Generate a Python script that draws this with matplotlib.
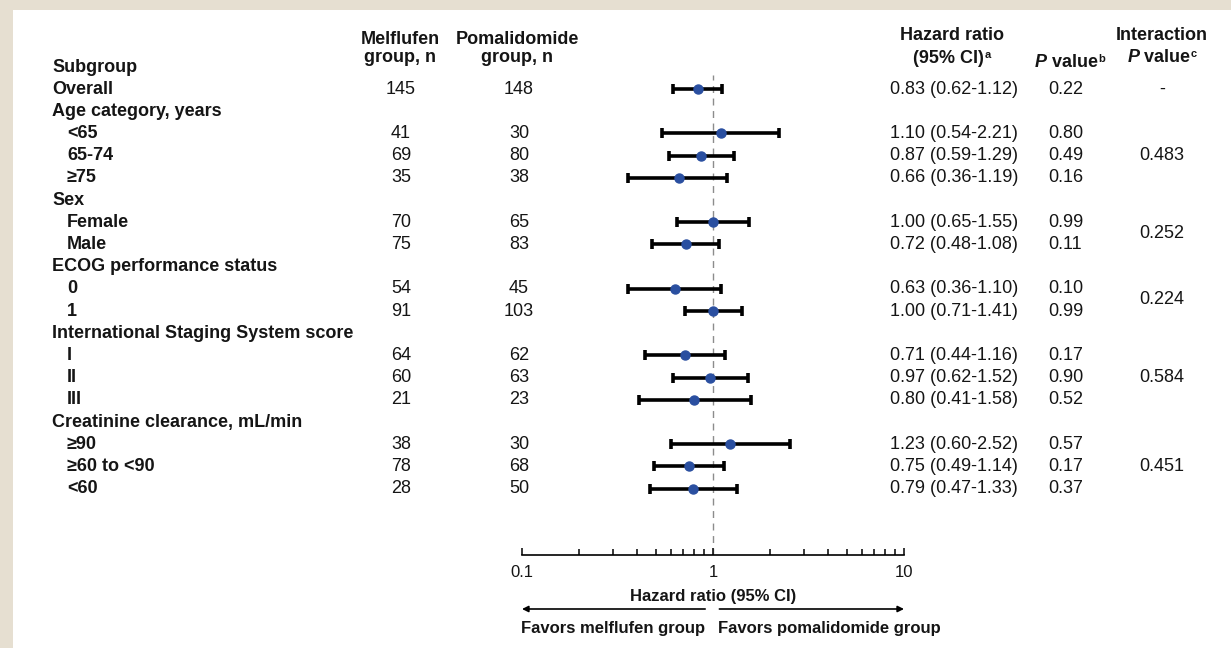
import matplotlib
matplotlib.use("Agg")
import matplotlib.pyplot as plt
from matplotlib import transforms
from matplotlib.patches import Rectangle
from matplotlib.ticker import FixedLocator, LogLocator, NullFormatter
import numpy as np

plt.rcParams['font.family'] = ['Liberation Sans', 'DejaVu Sans']

# rows of the table
labels = ["Overall", "Age category, years", "<65", "65-74", "\u226575", "Sex", "Female", "Male",
          "ECOG performance status", "0", "1", "International Staging System score", "I", "II", "III",
          "Creatinine clearance, mL/min", "\u226590", "\u226560 to <90", "<60"]
indent = [0, 0, 1, 1, 1, 0, 1, 1, 0, 1, 1, 0, 1, 1, 1, 0, 1, 1, 1]
n_mel = [145, None, 41, 69, 35, None, 70, 75, None, 54, 91, None, 64, 60, 21, None, 38, 78, 28]
n_pom = [148, None, 30, 80, 38, None, 65, 83, None, 45, 103, None, 62, 63, 23, None, 30, 68, 50]
hr = [0.83, None, 1.10, 0.87, 0.66, None, 1.00, 0.72, None, 0.63, 1.00, None, 0.71, 0.97, 0.80, None, 1.23, 0.75, 0.79]
lo = [0.62, None, 0.54, 0.59, 0.36, None, 0.65, 0.48, None, 0.36, 0.71, None, 0.44, 0.62, 0.41, None, 0.60, 0.49, 0.47]
hi = [1.12, None, 2.21, 1.29, 1.19, None, 1.55, 1.08, None, 1.10, 1.41, None, 1.16, 1.52, 1.58, None, 2.52, 1.14, 1.33]
pval = ["0.22", None, "0.80", "0.49", "0.16", None, "0.99", "0.11", None, "0.10", "0.99", None,
        "0.17", "0.90", "0.52", None, "0.57", "0.17", "0.37"]
inter_vals = ["-", "0.483", "0.252", "0.224", "0.584", "0.451"]
inter_rows = [[0], [2, 3, 4], [6, 7], [9, 10], [12, 13, 14], [16, 17, 18]]

W, H = 1231, 648
FS = 13      # table text
FSA = 12     # axis text
TXT = '#151515'
fig = plt.figure(figsize=(W / 100, H / 100), dpi=100)
fig.patch.set_facecolor('#e6dfd1')
fig.add_artist(Rectangle((13 / W, 0), 1 - 13 / W, 1 - 10 / H, transform=fig.transFigure,
                         facecolor='white', edgecolor='none', zorder=-5))

# forest axes, rows in index units, 22.2 px per row, first row at 89 px
y0, dy = 89, 22.2
ax = fig.add_axes([522 / W, 1 - 555 / H, (904 - 522) / W, (555 - 10) / H])
ax.patch.set_visible(False)
ax.set_xscale('log')
ax.set_xlim(0.1, 10)
ax.set_ylim((555 - y0) / dy, (10 - y0) / dy)
for s in ['left', 'right', 'top']:
    ax.spines[s].set_visible(False)
ax.spines['bottom'].set_linewidth(1.2)
ax.set_yticks([])
ax.xaxis.set_major_locator(FixedLocator([0.1, 1, 10]))
ax.xaxis.set_minor_locator(LogLocator(base=10, subs=np.arange(2, 10)))
ax.xaxis.set_minor_formatter(NullFormatter())
ax.set_xticklabels(["0.1", "1", "10"])
ax.tick_params(which='both', direction='in', width=1.2, colors=TXT, labelsize=FSA, pad=7)
ax.tick_params(which='major', length=5)
ax.tick_params(which='minor', length=4)

rows = np.arange(len(labels))
idx = [i for i in rows if hr[i] is not None]
ax.axvline(1, ymin=0, ymax=(555 - 75) / (555 - 10), color='#8c8c8c', lw=1, dashes=(5, 4), zorder=1)
ax.errorbar([hr[i] for i in idx], idx,
            xerr=[[hr[i] - lo[i] for i in idx], [hi[i] - hr[i] for i in idx]],
            fmt='o', color='#2a4fa0', ms=6.5, ecolor='black', elinewidth=2.6,
            capsize=3.3, capthick=2.6, zorder=3)

trans = transforms.blended_transform_factory(fig.transFigure, ax.transData)


def px(x):
    return x / W


def fy(y):
    return 1 - y / H


# row texts
for i in rows:
    ax.text(px(52 + 15 * indent[i]), i, labels[i], transform=trans, fontsize=FS,
            fontweight='bold', va='center', color=TXT)
    if n_mel[i] is not None:
        ax.text(px(401), i, str(n_mel[i]), transform=trans, fontsize=FS, ha='center', va='center', color=TXT)
        ax.text(px(519), i, str(n_pom[i]), transform=trans, fontsize=FS, ha='center', va='center', color=TXT)
    if hr[i] is not None:
        ax.text(px(890), i, f"{hr[i]:.2f} ({lo[i]:.2f}-{hi[i]:.2f})", transform=trans,
                fontsize=FS, va='center', color=TXT)
        ax.text(px(1048), i, pval[i], transform=trans, fontsize=FS, va='center', color=TXT)
for v, r in zip(inter_vals, inter_rows):
    ax.text(px(1162), np.mean(r), v, transform=trans, fontsize=FS, ha='center', va='center', color=TXT)

# headers
renderer = fig.canvas.get_renderer()


def parts(xc, y, pieces):
    # draw pieces of text one after another, centred at xc (pixels), baseline at y
    arts = []
    x = 0
    for s, kw, dyp in pieces:
        t = fig.text(0, 0, s, color=TXT, va='baseline', **kw)
        w = t.get_window_extent(renderer).width
        arts.append((t, x, dyp))
        x += w
    for t, xo, dyp in arts:
        t.set_position((px(xc - x / 2 + xo), fy(y - dyp)))


bold = dict(fontsize=FS, fontweight='bold')
boldit = dict(fontsize=FS, fontweight='bold', fontstyle='italic')
sup = dict(fontsize=8, fontweight='bold')
fig.text(px(52), fy(67), "Subgroup", va='center', color=TXT, **bold)
fig.text(px(400), fy(40), "Melflufen", ha='center', va='center', color=TXT, **bold)
fig.text(px(400), fy(57), "group, n", ha='center', va='center', color=TXT, **bold)
fig.text(px(517), fy(40), "Pomalidomide", ha='center', va='center', color=TXT, **bold)
fig.text(px(517), fy(57), "group, n", ha='center', va='center', color=TXT, **bold)
fig.text(px(952), fy(36), "Hazard ratio", ha='center', va='center', color=TXT, **bold)
parts(952, 63, [("(95% CI)", bold, 0), ("a", sup, 5)])
parts(1070, 67, [("P", boldit, 0), (" value", bold, 0), ("b", sup, 5)])
fig.text(px(1162), fy(36), "Interaction", ha='center', va='center', color=TXT, **bold)
parts(1162, 62, [("P", boldit, 0), (" value", bold, 0), ("c", sup, 5)])

# axis caption and arrows
fig.text(px(713), fy(597), "Hazard ratio (95% CI)", ha='center', va='center', color=TXT,
         fontsize=FSA, fontweight='bold')
arrow_tr = transforms.blended_transform_factory(ax.transData, fig.transFigure)
aprops = dict(arrowstyle='-|>', color='black', lw=1.2, mutation_scale=9, shrinkA=0, shrinkB=0)
ax.annotate("", xy=(0.1, fy(609)), xytext=(0.91, fy(609)), xycoords=arrow_tr, textcoords=arrow_tr,
            arrowprops=aprops, annotation_clip=False)
ax.annotate("", xy=(10, fy(609)), xytext=(1.08, fy(609)), xycoords=arrow_tr, textcoords=arrow_tr,
            arrowprops=aprops, annotation_clip=False)
fig.text(px(705), fy(628), "Favors melflufen group", ha='right', va='center', color=TXT,
         fontsize=FSA, fontweight='bold')
fig.text(px(718), fy(628), "Favors pomalidomide group", ha='left', va='center', color=TXT,
         fontsize=FSA, fontweight='bold')

fig.savefig("out.png", dpi=100, facecolor=fig.get_facecolor())
